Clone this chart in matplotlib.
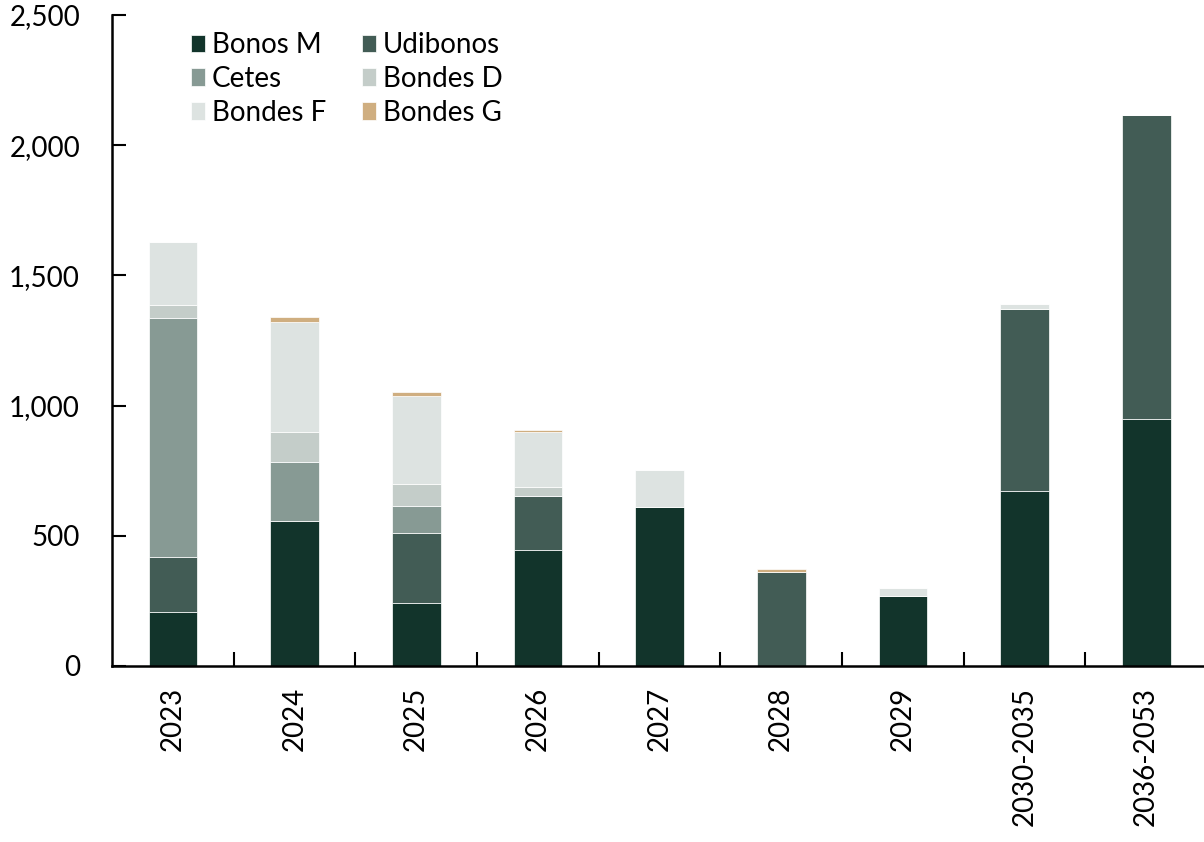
import numpy as np
import matplotlib
matplotlib.use("Agg")
import matplotlib.pyplot as plt

plt.rcParams['font.family'] = ['Lato', 'DejaVu Sans']

categories = ["2023", "2024", "2025", "2026", "2027", "2028", "2029", "2030-2035", "2036-2053"]

bonos_m   = [208, 558, 241, 445, 612, 0,   268, 671, 948]
udibonos  = [209, 0,   268, 206, 0,   360, 0,   700, 1167]
cetes     = [920, 224, 104, 0,   0,   0,   0,   0,   0]
bondes_d  = [51,  115, 87,  36,  0,   0,   0,   0,   0]
bondes_f  = [240, 423, 338, 210, 141, 0,   30,  18,  0]
bondes_g  = [0,   22,  15,  11,  0,   13,  0,   0,   0]

series = [
    ("Bonos M", bonos_m, "#12342b"),
    ("Udibonos", udibonos, "#425c55"),
    ("Cetes", cetes, "#879a94"),
    ("Bondes D", bondes_d, "#c4cdc9"),
    ("Bondes F", bondes_f, "#dde3e1"),
    ("Bondes G", bondes_g, "#cfae80"),
]

fig = plt.figure(figsize=(12.04, 8.42), dpi=100)
ax = fig.add_axes([112/1204, 1 - 666/842, 1095/1204, 651/842])

x = np.arange(len(categories))
bottom = np.zeros(len(categories))
handles = {}
for name, vals, col in series:
    vals = np.array(vals, dtype=float)
    b = ax.bar(x, vals, 0.4, bottom=bottom, color=col, edgecolor="white",
               linewidth=0.5, label=name)
    handles[name] = b
    bottom += vals

ax.set_xlim(-0.5, len(categories) - 0.5)
ax.set_ylim(0, 2500)
ax.set_yticks(np.arange(0, 2501, 500))
ax.set_yticklabels([f"{v:,}" for v in range(0, 2501, 500)], fontsize=20)
ax.tick_params(axis="y", direction="in", length=10, width=1.5, pad=23)

ax.set_xticks(x)
ax.set_xticklabels(categories, rotation=90, fontsize=20)
ax.set_xticks(x[:-1] + 0.5, minor=True)
ax.tick_params(axis="x", which="major", length=0, pad=15)
ax.tick_params(axis="x", which="minor", direction="in", length=10, width=1.5)

for s in ["top", "right"]:
    ax.spines[s].set_visible(False)
ax.spines["left"].set_linewidth(1.8)
ax.spines["bottom"].set_linewidth(1.8)

# legend fills column-wise, so reorder to get row pairs
order = ["Bonos M", "Cetes", "Bondes F", "Udibonos", "Bondes D", "Bondes G"]
ax.legend([handles[n] for n in order], order, ncol=2, frameon=False,
          fontsize=20, loc="upper left", bbox_to_anchor=(0.0495, 1.012),
          handlelength=0.5, handleheight=0.6, handletextpad=0.25,
          columnspacing=1.3, labelspacing=0.28)

fig.savefig("out.png", dpi=100)
